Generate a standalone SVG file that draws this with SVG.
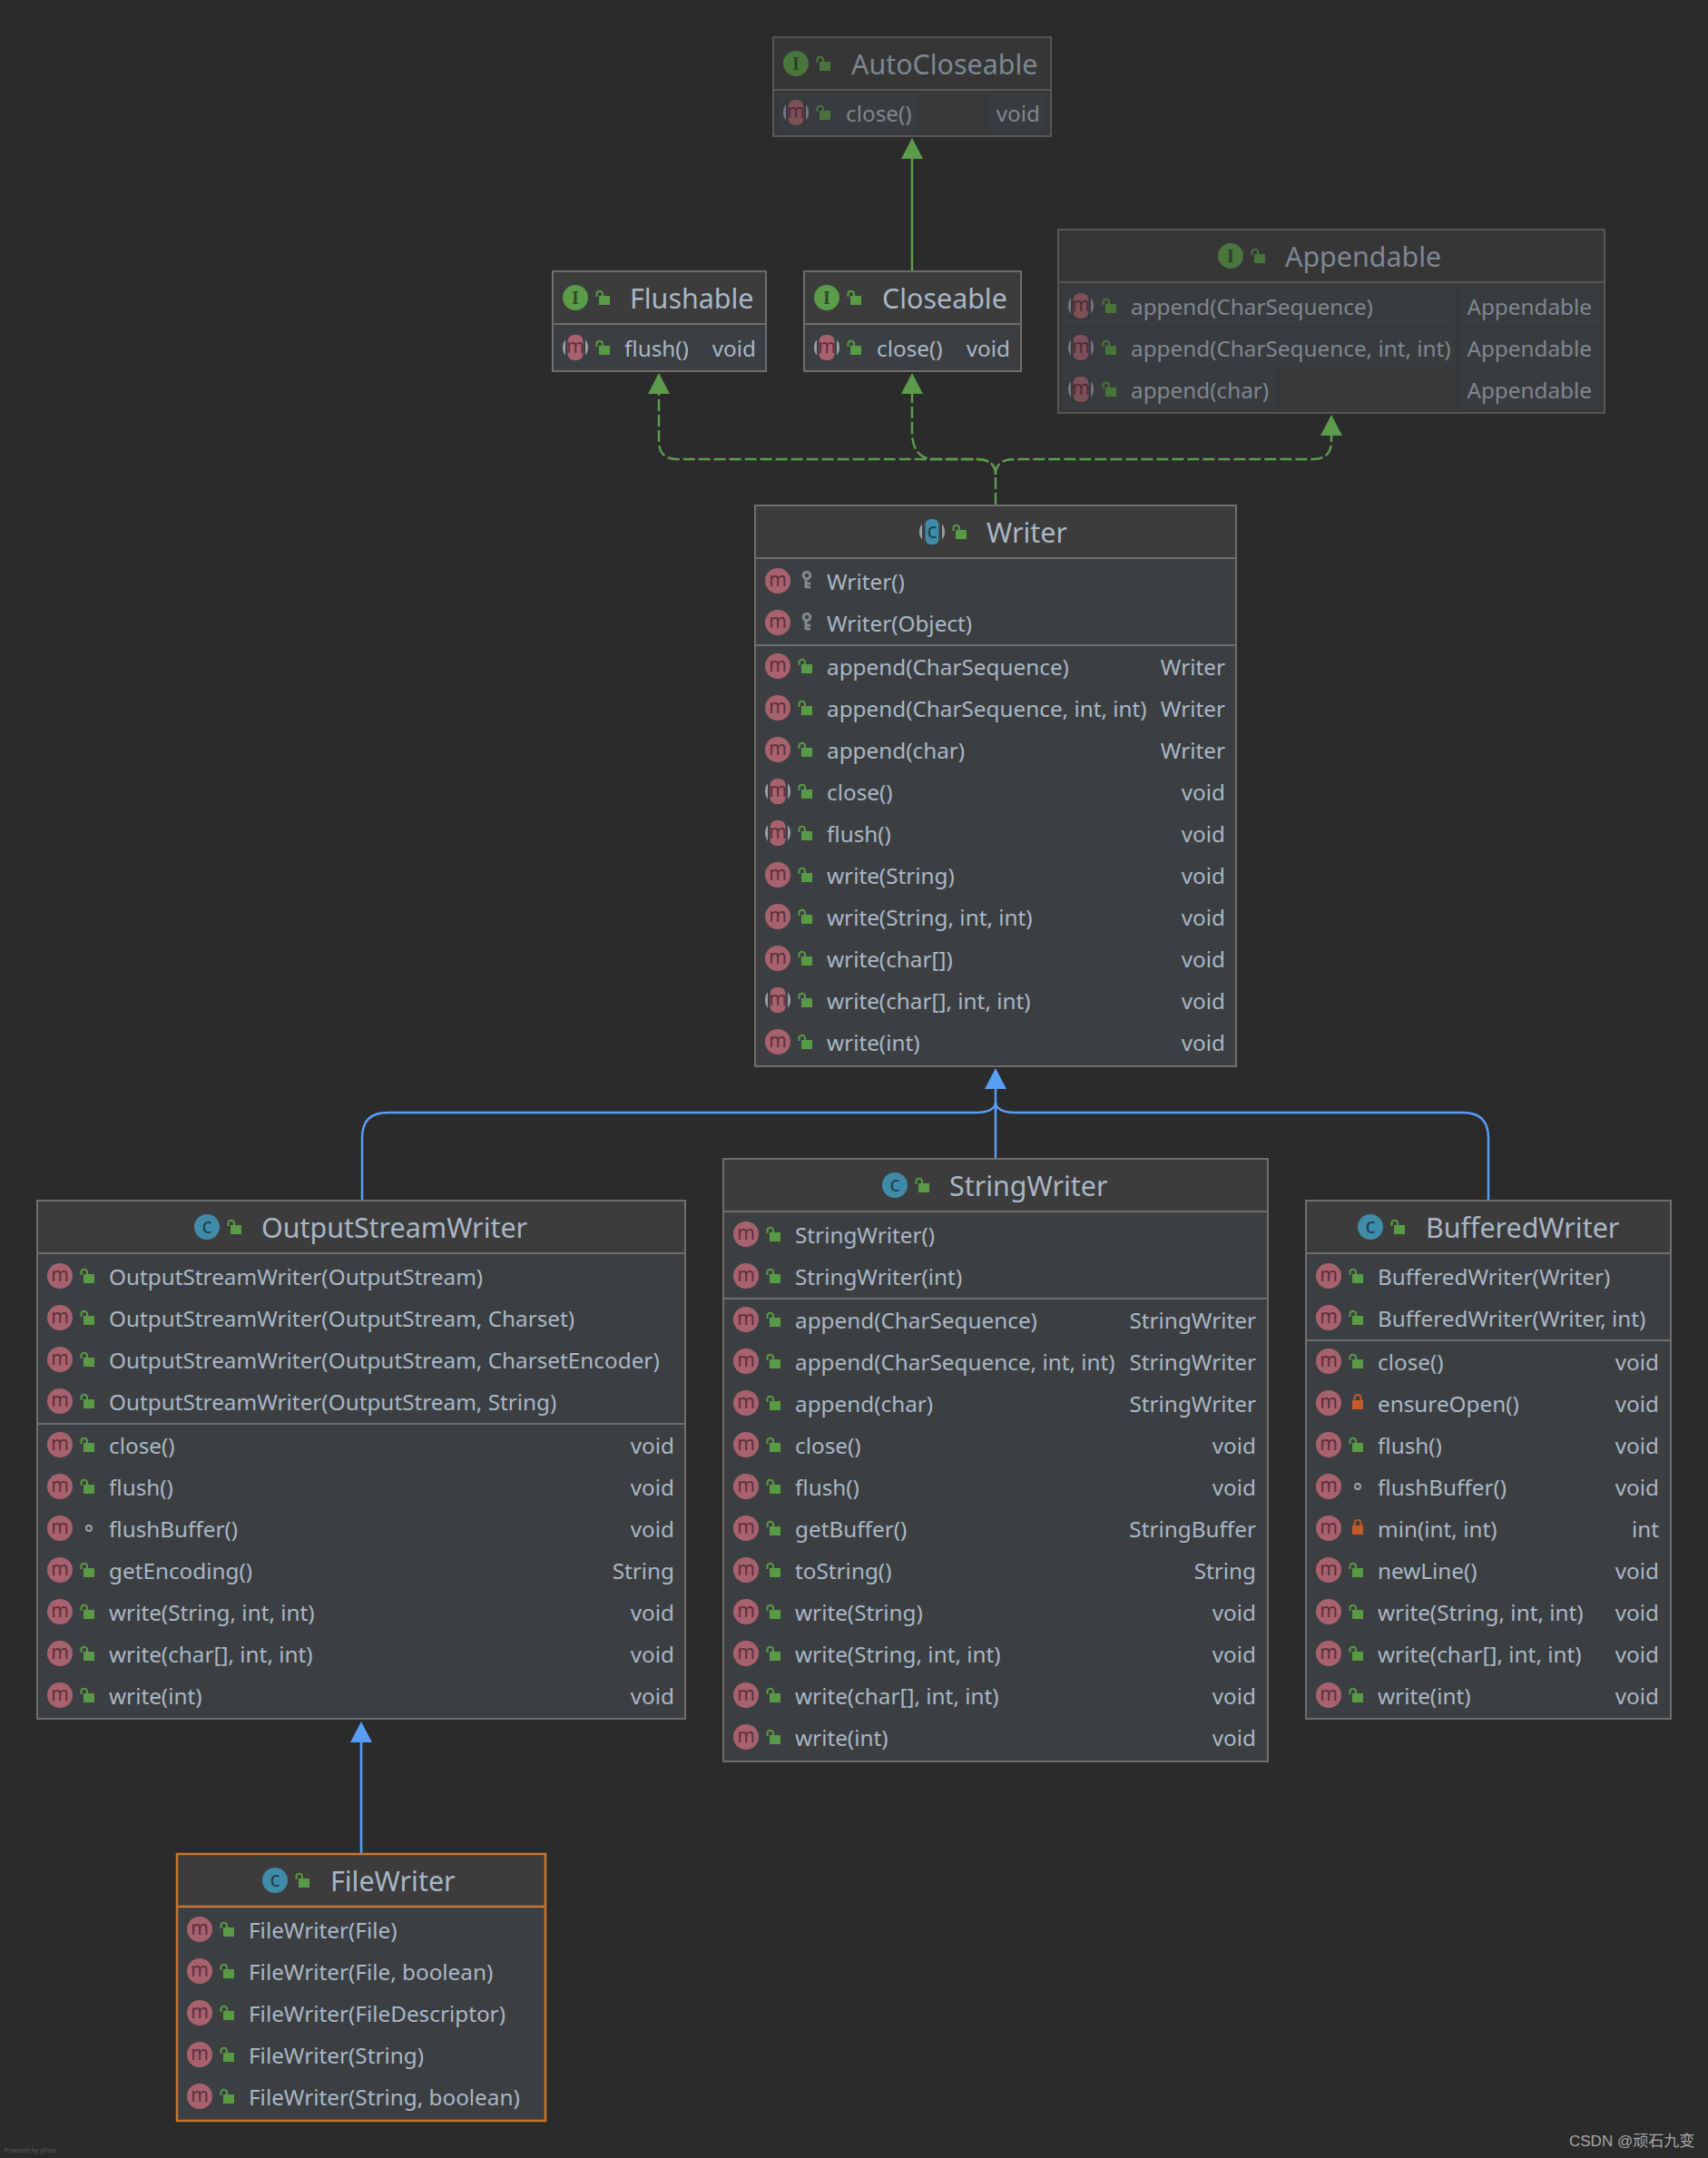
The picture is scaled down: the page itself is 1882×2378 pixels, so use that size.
<svg xmlns="http://www.w3.org/2000/svg" width="1882" height="2378" viewBox="0 0 1882 2378">
<style>
text{font-family:"Noto Sans","Open Sans","Liberation Sans",sans-serif;fill:#a9b7c6}
.t{font-size:30.400px}
.r{font-size:24.300px}
.v{font-size:24.300px;text-anchor:end}
.hd{fill:#3c3c3c}
.bd{fill:#3c3f41}
.fr{fill:none;stroke:#6e6e6e;stroke-width:2}
.ln{stroke:#6e6e6e;stroke-width:2}
.orange{stroke:#c6752f;stroke-width:2.500;fill:none}
.faded{opacity:.66}
.patch{fill:#414548}
.gs{fill:none;stroke:#5d9b4c;stroke-width:2.500}
.gd{fill:none;stroke:#5d9b4c;stroke-width:2.500;stroke-dasharray:13 4}
.bl{fill:none;stroke:#589df6;stroke-width:2.500}
.ig{font-size:20px;font-weight:bold;text-anchor:middle;font-family:"Liberation Serif",serif;fill:#2e4a2a}
.ic{font-size:23px;text-anchor:middle;fill:#20404f}
.im{font-size:21px;text-anchor:middle;fill:#5e2f3b}
</style>
<defs>
<g id="pub"><rect x="-4" y="-2" width="12" height="10" fill="#589a45"/><path d="M-6.500-1V-4.500A3.300 3.300 0 0 1 0-4.500V-2" fill="none" stroke="#589a45" stroke-width="2"/></g>
<g id="priv"><rect x="-6" y="-3" width="12" height="10" fill="#c35a28"/><path d="M-3.500-3V-5.500A3.500 3.500 0 0 1 3.500-5.500V-3" fill="none" stroke="#c35a28" stroke-width="2"/></g>
<g id="prot"><circle cx="0" cy="-6" r="3.800" fill="none" stroke="#7f8b91" stroke-width="3"/><path d="M-1-3V8M0 7H4M0 3H4" fill="none" stroke="#7f8b91" stroke-width="3"/></g>
<circle id="pkg" r="3" fill="none" stroke="#a0a8ad" stroke-width="1.800"/>
<g id="m"><circle r="14" fill="#a8626f"/><text class="im" y="6">m</text></g>
<g id="mo"><circle r="14" fill="#9aa0a5"/><rect x="-11" y="-15" width="22" height="30" fill="#3c3f41"/><rect x="-8.500" y="-14" width="17" height="28" rx="7" fill="#a8626f"/><text class="im" y="6">m</text></g>
<g id="c"><circle r="14" fill="#3f8ba8"/><text class="ic" y="7">c</text></g>
<g id="ca"><circle r="14" fill="#9aa0a5"/><rect x="-11" y="-15" width="22" height="30" fill="#3c3c3c"/><rect x="-7.500" y="-14" width="15" height="28" rx="6" fill="#3f8ba8"/><text class="ic" y="7">c</text></g>
<g id="i"><circle r="14" fill="#5a9c47"/><text class="ig" y="7">I</text></g>
<path id="ag" d="M0 0L12 23H-12Z" fill="#5d9b4c"/>
<path id="ab" d="M0 0L12 23H-12Z" fill="#589df6"/>
</defs>
<rect width="1882" height="2378" fill="#2b2b2b"/>

<g id="connectors">
<path class="gs" d="M1005 299V174"/>
<path class="gd" d="M1097 556V523C1097 512 1090 506 1076 506H746Q726 506 726 486V434"/>
<path class="gd" d="M1097 523C1097 512 1090 506 1076 506H1026Q1005 503 1005 476V434"/>
<path class="gd" d="M1097 523C1097 512 1104 506 1118 506H1447Q1467 506 1467 486V480"/>
<path class="bl" d="M1097 1277V1200"/>
<path class="bl" d="M399 1322V1254Q399 1226 427 1226H1076C1088 1226 1097 1222 1097 1215"/>
<path class="bl" d="M1640 1322V1254Q1640 1226 1612 1226H1118C1106 1226 1097 1222 1097 1215"/>
<path class="bl" d="M398 2043V1920"/>
<use href="#ag" x="1005" y="152"/>
<use href="#ag" x="726" y="411"/>
<use href="#ag" x="1005" y="411"/>
<use href="#ag" x="1467" y="457"/>
<use href="#ab" x="1097" y="1177"/>
<use href="#ab" x="398" y="1897"/>
</g>

<g id="autocloseable" class="faded">
<rect class="hd" x="852" y="41" width="306" height="58"/><rect class="bd" x="852" y="99" width="306" height="51"/>
<rect class="patch" x="857" y="103" width="155" height="43"/><rect class="patch" x="1090" y="103" width="63" height="43"/>
<rect class="fr" x="852" y="41" width="306" height="109"/><line class="ln" x1="852" y1="99" x2="1158" y2="99"/>
<use href="#i" x="877" y="70"/><use href="#pub" x="907" y="70"/><text class="t" x="938" y="82">AutoCloseable</text>
<use href="#mo" x="877" y="124"/><use href="#pub" x="907" y="124"/><text class="r" x="932" y="134">close()</text><text class="v" x="1146" y="134">void</text>
</g>

<g id="flushable">
<rect class="hd" x="609" y="299" width="235" height="58"/><rect class="bd" x="609" y="357" width="235" height="52"/>
<rect class="fr" x="609" y="299" width="235" height="110"/><line class="ln" x1="609" y1="357" x2="844" y2="357"/>
<use href="#i" x="634" y="328"/><use href="#pub" x="664" y="328"/><text class="t" x="694" y="340">Flushable</text>
<use href="#mo" x="634" y="383"/><use href="#pub" x="664" y="383"/><text class="r" x="688" y="393">flush()</text><text class="v" x="833" y="393">void</text>
</g>

<g id="closeable">
<rect class="hd" x="886" y="299" width="239" height="58"/><rect class="bd" x="886" y="357" width="239" height="52"/>
<rect class="fr" x="886" y="299" width="239" height="110"/><line class="ln" x1="886" y1="357" x2="1125" y2="357"/>
<use href="#i" x="911" y="328"/><use href="#pub" x="941" y="328"/><text class="t" x="972" y="340">Closeable</text>
<use href="#mo" x="911" y="383"/><use href="#pub" x="941" y="383"/><text class="r" x="966" y="393">close()</text><text class="v" x="1113" y="393">void</text>
</g>

<g id="appendable" class="faded">
<rect class="hd" x="1166" y="253" width="602" height="58"/><rect class="bd" x="1166" y="311" width="602" height="144"/>
<rect class="patch" x="1171" y="315" width="433" height="44"/><rect class="patch" x="1171" y="361" width="433" height="44"/><rect class="patch" x="1171" y="407" width="235" height="44"/>
<rect class="patch" x="1610" y="315" width="153" height="44"/><rect class="patch" x="1610" y="361" width="153" height="44"/><rect class="patch" x="1610" y="407" width="153" height="44"/>
<rect class="fr" x="1166" y="253" width="602" height="202"/><line class="ln" x1="1166" y1="311" x2="1768" y2="311"/>
<use href="#i" x="1356" y="282"/><use href="#pub" x="1386" y="282"/><text class="t" x="1416" y="294">Appendable</text>
<use href="#mo" x="1191" y="337"/><use href="#pub" x="1222" y="337"/><text class="r" x="1246" y="347">append(CharSequence)</text><text class="v" x="1754" y="347">Appendable</text>
<use href="#mo" x="1191" y="383"/><use href="#pub" x="1222" y="383"/><text class="r" x="1246" y="393">append(CharSequence, int, int)</text><text class="v" x="1754" y="393">Appendable</text>
<use href="#mo" x="1191" y="429"/><use href="#pub" x="1222" y="429"/><text class="r" x="1246" y="439">append(char)</text><text class="v" x="1754" y="439">Appendable</text>
</g>

<g id="writer">
<rect class="hd" x="832" y="557" width="530" height="58"/><rect class="bd" x="832" y="615" width="530" height="560"/>
<rect class="fr" x="832" y="557" width="530" height="618"/><line class="ln" x1="832" y1="615" x2="1362" y2="615"/><line class="ln" x1="832" y1="711" x2="1362" y2="711"/>
<use href="#ca" x="1027" y="586"/><use href="#pub" x="1057" y="586"/><text class="t" x="1087" y="598">Writer</text>
<use href="#m" x="857" y="640"/><use href="#prot" x="889" y="640"/><text class="r" x="911" y="650">Writer()</text>
<use href="#m" x="857" y="686"/><use href="#prot" x="889" y="686"/><text class="r" x="911" y="696">Writer(Object)</text>
<use href="#m" x="857" y="734"/><use href="#pub" x="887" y="734"/><text class="r" x="911" y="744">append(CharSequence)</text><text class="v" x="1350" y="744">Writer</text>
<use href="#m" x="857" y="780"/><use href="#pub" x="887" y="780"/><text class="r" x="911" y="790">append(CharSequence, int, int)</text><text class="v" x="1350" y="790">Writer</text>
<use href="#m" x="857" y="826"/><use href="#pub" x="887" y="826"/><text class="r" x="911" y="836">append(char)</text><text class="v" x="1350" y="836">Writer</text>
<use href="#mo" x="857" y="872"/><use href="#pub" x="887" y="872"/><text class="r" x="911" y="882">close()</text><text class="v" x="1350" y="882">void</text>
<use href="#mo" x="857" y="918"/><use href="#pub" x="887" y="918"/><text class="r" x="911" y="928">flush()</text><text class="v" x="1350" y="928">void</text>
<use href="#m" x="857" y="964"/><use href="#pub" x="887" y="964"/><text class="r" x="911" y="974">write(String)</text><text class="v" x="1350" y="974">void</text>
<use href="#m" x="857" y="1010"/><use href="#pub" x="887" y="1010"/><text class="r" x="911" y="1020">write(String, int, int)</text><text class="v" x="1350" y="1020">void</text>
<use href="#m" x="857" y="1056"/><use href="#pub" x="887" y="1056"/><text class="r" x="911" y="1066">write(char[])</text><text class="v" x="1350" y="1066">void</text>
<use href="#mo" x="857" y="1102"/><use href="#pub" x="887" y="1102"/><text class="r" x="911" y="1112">write(char[], int, int)</text><text class="v" x="1350" y="1112">void</text>
<use href="#m" x="857" y="1148"/><use href="#pub" x="887" y="1148"/><text class="r" x="911" y="1158">write(int)</text><text class="v" x="1350" y="1158">void</text>
</g>

<g id="outputstreamwriter">
<rect class="hd" x="41" y="1323" width="714" height="58"/><rect class="bd" x="41" y="1381" width="714" height="513"/>
<rect class="fr" x="41" y="1323" width="714" height="571"/><line class="ln" x1="41" y1="1381" x2="755" y2="1381"/><line class="ln" x1="41" y1="1569" x2="755" y2="1569"/>
<use href="#c" x="228" y="1352"/><use href="#pub" x="258" y="1352"/><text class="t" x="288" y="1364">OutputStreamWriter</text>
<use href="#m" x="66" y="1406"/><use href="#pub" x="96" y="1406"/><text class="r" x="120" y="1416">OutputStreamWriter(OutputStream)</text>
<use href="#m" x="66" y="1452"/><use href="#pub" x="96" y="1452"/><text class="r" x="120" y="1462">OutputStreamWriter(OutputStream, Charset)</text>
<use href="#m" x="66" y="1498"/><use href="#pub" x="96" y="1498"/><text class="r" x="120" y="1508">OutputStreamWriter(OutputStream, CharsetEncoder)</text>
<use href="#m" x="66" y="1544"/><use href="#pub" x="96" y="1544"/><text class="r" x="120" y="1554">OutputStreamWriter(OutputStream, String)</text>
<use href="#m" x="66" y="1592"/><use href="#pub" x="96" y="1592"/><text class="r" x="120" y="1602">close()</text><text class="v" x="743" y="1602">void</text>
<use href="#m" x="66" y="1638"/><use href="#pub" x="96" y="1638"/><text class="r" x="120" y="1648">flush()</text><text class="v" x="743" y="1648">void</text>
<use href="#m" x="66" y="1684"/><use href="#pkg" x="98" y="1684"/><text class="r" x="120" y="1694">flushBuffer()</text><text class="v" x="743" y="1694">void</text>
<use href="#m" x="66" y="1730"/><use href="#pub" x="96" y="1730"/><text class="r" x="120" y="1740">getEncoding()</text><text class="v" x="743" y="1740">String</text>
<use href="#m" x="66" y="1776"/><use href="#pub" x="96" y="1776"/><text class="r" x="120" y="1786">write(String, int, int)</text><text class="v" x="743" y="1786">void</text>
<use href="#m" x="66" y="1822"/><use href="#pub" x="96" y="1822"/><text class="r" x="120" y="1832">write(char[], int, int)</text><text class="v" x="743" y="1832">void</text>
<use href="#m" x="66" y="1868"/><use href="#pub" x="96" y="1868"/><text class="r" x="120" y="1878">write(int)</text><text class="v" x="743" y="1878">void</text>
</g>

<g id="stringwriter">
<rect class="hd" x="797" y="1277" width="600" height="58"/><rect class="bd" x="797" y="1335" width="600" height="606"/>
<rect class="fr" x="797" y="1277" width="600" height="664"/><line class="ln" x1="797" y1="1335" x2="1397" y2="1335"/><line class="ln" x1="797" y1="1431" x2="1397" y2="1431"/>
<use href="#c" x="986" y="1306"/><use href="#pub" x="1016" y="1306"/><text class="t" x="1046" y="1318">StringWriter</text>
<use href="#m" x="822" y="1360"/><use href="#pub" x="852" y="1360"/><text class="r" x="876" y="1370">StringWriter()</text>
<use href="#m" x="822" y="1406"/><use href="#pub" x="852" y="1406"/><text class="r" x="876" y="1416">StringWriter(int)</text>
<use href="#m" x="822" y="1454"/><use href="#pub" x="852" y="1454"/><text class="r" x="876" y="1464">append(CharSequence)</text><text class="v" x="1384" y="1464">StringWriter</text>
<use href="#m" x="822" y="1500"/><use href="#pub" x="852" y="1500"/><text class="r" x="876" y="1510">append(CharSequence, int, int)</text><text class="v" x="1384" y="1510">StringWriter</text>
<use href="#m" x="822" y="1546"/><use href="#pub" x="852" y="1546"/><text class="r" x="876" y="1556">append(char)</text><text class="v" x="1384" y="1556">StringWriter</text>
<use href="#m" x="822" y="1592"/><use href="#pub" x="852" y="1592"/><text class="r" x="876" y="1602">close()</text><text class="v" x="1384" y="1602">void</text>
<use href="#m" x="822" y="1638"/><use href="#pub" x="852" y="1638"/><text class="r" x="876" y="1648">flush()</text><text class="v" x="1384" y="1648">void</text>
<use href="#m" x="822" y="1684"/><use href="#pub" x="852" y="1684"/><text class="r" x="876" y="1694">getBuffer()</text><text class="v" x="1384" y="1694">StringBuffer</text>
<use href="#m" x="822" y="1730"/><use href="#pub" x="852" y="1730"/><text class="r" x="876" y="1740">toString()</text><text class="v" x="1384" y="1740">String</text>
<use href="#m" x="822" y="1776"/><use href="#pub" x="852" y="1776"/><text class="r" x="876" y="1786">write(String)</text><text class="v" x="1384" y="1786">void</text>
<use href="#m" x="822" y="1822"/><use href="#pub" x="852" y="1822"/><text class="r" x="876" y="1832">write(String, int, int)</text><text class="v" x="1384" y="1832">void</text>
<use href="#m" x="822" y="1868"/><use href="#pub" x="852" y="1868"/><text class="r" x="876" y="1878">write(char[], int, int)</text><text class="v" x="1384" y="1878">void</text>
<use href="#m" x="822" y="1914"/><use href="#pub" x="852" y="1914"/><text class="r" x="876" y="1924">write(int)</text><text class="v" x="1384" y="1924">void</text>
</g>

<g id="bufferedwriter">
<rect class="hd" x="1439" y="1323" width="402" height="58"/><rect class="bd" x="1439" y="1381" width="402" height="513"/>
<rect class="fr" x="1439" y="1323" width="402" height="571"/><line class="ln" x1="1439" y1="1381" x2="1841" y2="1381"/><line class="ln" x1="1439" y1="1477" x2="1841" y2="1477"/>
<use href="#c" x="1510" y="1352"/><use href="#pub" x="1540" y="1352"/><text class="t" x="1571" y="1364">BufferedWriter</text>
<use href="#m" x="1464" y="1406"/><use href="#pub" x="1494" y="1406"/><text class="r" x="1518" y="1416">BufferedWriter(Writer)</text>
<use href="#m" x="1464" y="1452"/><use href="#pub" x="1494" y="1452"/><text class="r" x="1518" y="1462">BufferedWriter(Writer, int)</text>
<use href="#m" x="1464" y="1500"/><use href="#pub" x="1494" y="1500"/><text class="r" x="1518" y="1510">close()</text><text class="v" x="1828" y="1510">void</text>
<use href="#m" x="1464" y="1546"/><use href="#priv" x="1496" y="1546"/><text class="r" x="1518" y="1556">ensureOpen()</text><text class="v" x="1828" y="1556">void</text>
<use href="#m" x="1464" y="1592"/><use href="#pub" x="1494" y="1592"/><text class="r" x="1518" y="1602">flush()</text><text class="v" x="1828" y="1602">void</text>
<use href="#m" x="1464" y="1638"/><use href="#pkg" x="1496" y="1638"/><text class="r" x="1518" y="1648">flushBuffer()</text><text class="v" x="1828" y="1648">void</text>
<use href="#m" x="1464" y="1684"/><use href="#priv" x="1496" y="1684"/><text class="r" x="1518" y="1694">min(int, int)</text><text class="v" x="1828" y="1694">int</text>
<use href="#m" x="1464" y="1730"/><use href="#pub" x="1494" y="1730"/><text class="r" x="1518" y="1740">newLine()</text><text class="v" x="1828" y="1740">void</text>
<use href="#m" x="1464" y="1776"/><use href="#pub" x="1494" y="1776"/><text class="r" x="1518" y="1786">write(String, int, int)</text><text class="v" x="1828" y="1786">void</text>
<use href="#m" x="1464" y="1822"/><use href="#pub" x="1494" y="1822"/><text class="r" x="1518" y="1832">write(char[], int, int)</text><text class="v" x="1828" y="1832">void</text>
<use href="#m" x="1464" y="1868"/><use href="#pub" x="1494" y="1868"/><text class="r" x="1518" y="1878">write(int)</text><text class="v" x="1828" y="1878">void</text>
</g>

<g id="filewriter">
<rect class="hd" x="195" y="2043" width="406" height="58"/><rect class="bd" x="195" y="2101" width="406" height="236"/>
<rect class="orange" x="195" y="2043" width="406" height="294"/><line class="orange" x1="195" y1="2101" x2="601" y2="2101"/>
<use href="#c" x="303" y="2072"/><use href="#pub" x="333" y="2072"/><text class="t" x="364" y="2084">FileWriter</text>
<use href="#m" x="220" y="2126"/><use href="#pub" x="250" y="2126"/><text class="r" x="274" y="2136">FileWriter(File)</text>
<use href="#m" x="220" y="2172"/><use href="#pub" x="250" y="2172"/><text class="r" x="274" y="2182">FileWriter(File, boolean)</text>
<use href="#m" x="220" y="2218"/><use href="#pub" x="250" y="2218"/><text class="r" x="274" y="2228">FileWriter(FileDescriptor)</text>
<use href="#m" x="220" y="2264"/><use href="#pub" x="250" y="2264"/><text class="r" x="274" y="2274">FileWriter(String)</text>
<use href="#m" x="220" y="2310"/><use href="#pub" x="250" y="2310"/><text class="r" x="274" y="2320">FileWriter(String, boolean)</text>
</g>

<text x="5" y="2372" style="font-family:'Liberation Sans',sans-serif;font-size:7px;fill:#5a5a5a">Powered by yFiles</text>
<text x="1729" y="2365" style="font-family:'Liberation Sans','Noto Sans CJK SC',sans-serif;font-size:17px;fill:#a8a8a8">CSDN @顽石九变</text>
</svg>
